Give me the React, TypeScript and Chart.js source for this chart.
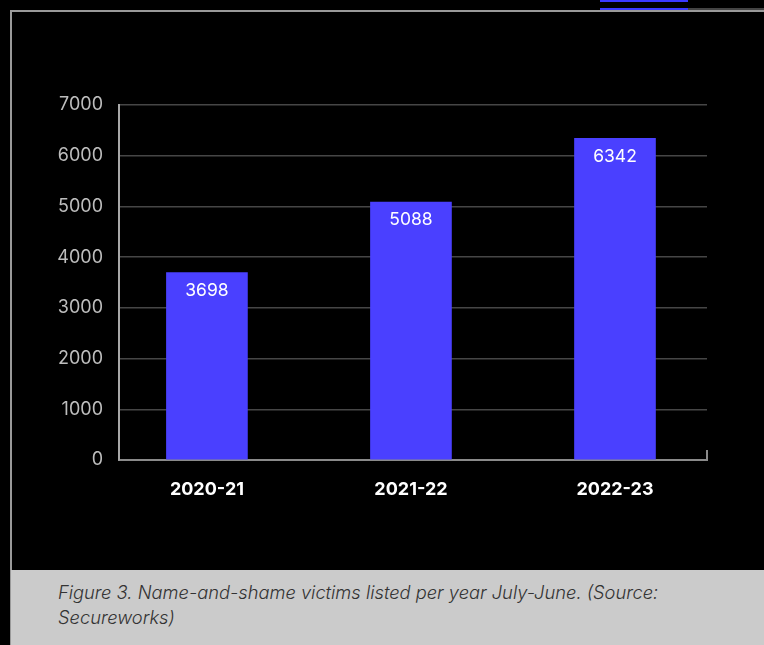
import React, { useEffect, useRef } from "react";
import { Chart, registerables } from "chart.js";

Chart.register(...registerables);

const categories = ["2020-21", "2021-22", "2022-23"];
const victims = [3698, 5088, 6342];
const yTicks = [0, 1000, 2000, 3000, 4000, 5000, 6000, 7000];
const caption = "Figure 3. Name-and-shame victims listed per year July-June. (Source: Secureworks)";

const FONT = "Inter, 'Noto Sans', sans-serif";

export default function App() {
  const ref = useRef<HTMLCanvasElement | null>(null);

  useEffect(() => {
    document.body.style.margin = "0";
    document.body.style.background = "#000";
    const canvas = ref.current;
    if (!canvas) return;

    const labelPlugin = {
      id: "barLabels",
      afterDatasetsDraw(chart: any) {
        const ctx = chart.ctx;
        const meta = chart.getDatasetMeta(0);
        ctx.save();
        ctx.fillStyle = "#ffffff";
        ctx.font = `400 17.5px ${FONT}`;
        ctx.textAlign = "center";
        ctx.textBaseline = "middle";
        meta.data.forEach((el: any, i: number) => {
          ctx.fillText(String(victims[i]), el.x, el.y + 18);
        });
        const a = chart.chartArea;
        ctx.strokeStyle = "#8a8a8a";
        ctx.lineWidth = 2;
        ctx.beginPath();
        ctx.moveTo(a.right, a.bottom - 10);
        ctx.lineTo(a.right, a.bottom + 1);
        ctx.stroke();
        ctx.restore();
      },
    };

    const chart = new Chart(canvas, {
      type: "bar",
      data: {
        datasets: [
          {
            data: victims.map((v, i) => ({ x: i, y: v })),
            backgroundColor: "#4a40ff",
            borderWidth: 0,
            barThickness: 81,
          },
        ],
      },
      options: {
        animation: false,
        responsive: false,
        maintainAspectRatio: false,
        layout: { padding: { top: 105, right: 57, left: 0, bottom: 0 } },
        plugins: { legend: { display: false }, tooltip: { enabled: false } },
        scales: {
          x: {
            type: "linear",
            offset: false,
            min: -0.431,
            max: 2.451,
            grid: { display: false, drawTicks: false },
            border: { display: true, color: "#8a8a8a", width: 2 },
            ticks: {
              stepSize: 1,
              includeBounds: false,
              autoSkip: false,
              maxRotation: 0,
              padding: 19,
              color: "#ffffff",
              font: { family: FONT, size: 18, weight: "bold" },
              callback: (v: any) => {
                const n = Number(v);
                return Number.isInteger(n) && categories[n] ? categories[n] : "";
              },
            },
            afterFit: (s: any) => {
              s.height = 110;
            },
          },
          y: {
            min: yTicks[0],
            max: yTicks[yTicks.length - 1],
            grid: { color: "#464646", lineWidth: 1.5, drawTicks: false },
            border: { display: true, color: "#a8a8a8", width: 2 },
            ticks: {
              stepSize: 1000,
              padding: 16,
              color: "#bdbdbd",
              font: { family: FONT, size: 18 },
              callback: (v: any) => String(v),
            },
            afterFit: (s: any) => {
              s.width = 119;
            },
          },
        },
      },
      plugins: [labelPlugin],
    });

    return () => chart.destroy();
  }, []);

  return (
    <div style={{ position: "relative", width: 764, height: 645, background: "#000", overflow: "hidden" }}>
      <div style={{ position: "absolute", left: 600, top: 0, width: 88, height: 2, background: "#3a3aff" }} />
      <div style={{ position: "absolute", left: 600, top: 8, width: 88, height: 2, background: "#3a3aff" }} />
      <div style={{ position: "absolute", left: 688, top: 8, width: 76, height: 2, background: "#444" }} />
      <div
        style={{
          position: "absolute",
          left: 10,
          top: 10,
          width: 760,
          height: 640,
          borderTop: "2px solid #9a9a9a",
          borderLeft: "2px solid #9a9a9a",
        }}
      />
      <canvas ref={ref} width={764} height={570} style={{ position: "absolute", left: 0, top: 0, display: "block" }} />
      <div
        style={{
          position: "absolute",
          left: 11,
          top: 570,
          width: 753,
          height: 75,
          background: "#cbcbcb",
          boxSizing: "border-box",
          padding: "10px 0 0 47px",
          color: "#333",
          fontFamily: FONT,
          fontStyle: "italic",
          fontWeight: 300,
          fontSize: 18.3,
          lineHeight: "25px",
        }}
      >
        <div style={{ width: 640 }}>{caption}</div>
      </div>
    </div>
  );
}
